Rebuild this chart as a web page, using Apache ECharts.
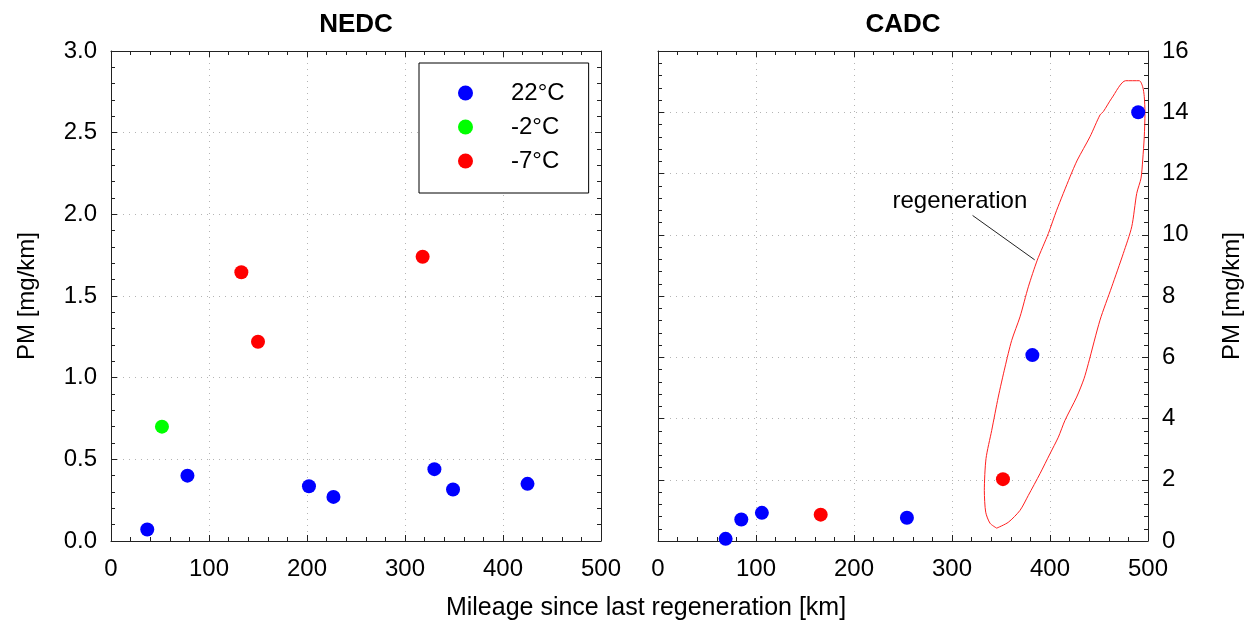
<!DOCTYPE html>
<html>
<head>
<meta charset="utf-8">
<script src="https://cdn.jsdelivr.net/npm/echarts@6/dist/echarts.min.js"></script>
<style>
html, body { margin: 0; padding: 0; background: #fff; }
#main { width: 1257px; height: 633px; }
</style>
</head>
<body>
<div id="main"></div>
<script>
// legend / temperatures
var tempNames = ['22°C', '-2°C', '-7°C'];
var tempColors = ['#0000ff', '#00ff00', '#ff0000'];

// NEDC (left panel), PM in mg/km
var nedcKm22 = [37, 78, 202, 227, 330, 349, 425];
var nedcPm22 = [0.07, 0.40, 0.335, 0.27, 0.44, 0.315, 0.35];
var nedcKmM2 = [52];
var nedcPmM2 = [0.70];
var nedcKmM7 = [133, 150, 318];
var nedcPmM7 = [1.645, 1.22, 1.74];

// CADC (right panel)
var cadcKm22 = [69, 85, 106, 254, 382, 490];
var cadcPm22 = [0.07, 0.70, 0.92, 0.76, 6.07, 14.0];
var cadcKmM7 = [166, 352];
var cadcPmM7 = [0.86, 2.02];

// hand drawn "regeneration" outline (km, mg/km)
var loopKm = [345.6, 338.8, 334.4, 333.0, 334.7, 340.5, 347.2, 354.1, 360.9, 369.4, 377.9, 387.0, 398.3, 406.8,
              420.4, 427.9, 440.8, 451.0, 454.4, 463.0, 477.2, 491.1, 494.6, 496.2, 496.9, 496.2, 494.6, 492.9,
              488.5, 483.4, 474.8, 463.0, 451.0, 439.1, 434.7, 427.2, 415.3, 408.5, 400.0, 389.8, 377.9, 369.4,
              357.4, 345.6];
var loopPm = [0.42, 0.58, 0.94, 1.65, 2.69, 3.61, 4.70, 5.68, 6.55, 7.32, 8.30, 9.17, 10.04, 10.80,
              11.89, 12.44, 13.20, 13.91, 14.02, 14.46, 15.03, 15.03, 14.83, 14.51, 13.98, 13.20, 12.44, 11.85,
              11.35, 10.26, 9.39, 8.30, 7.21, 5.79, 5.30, 4.70, 3.94, 3.39, 2.85, 2.20, 1.49, 1.00,
              0.61, 0.42];
var leaderKm = [321, 384.4];
var leaderPm = [10.63, 9.18];
var noteKm = [308];
var notePm = [11.1];
var noteText = 'regeneration';

var FONT = '"Liberation Sans", Arial, sans-serif';
var AXIS_COLOR = '#222';

function pairs(xs, ys) {
    return xs.map(function (x, i) { return [x, ys[i]]; });
}

function xAxisCfg(grid, mirror) {
    return {
        type: 'value', gridIndex: grid, min: 0, max: 500, interval: 100,
        position: mirror ? 'top' : 'bottom',
        axisLine: { show: true, onZero: false, lineStyle: { color: AXIS_COLOR, width: 1 } },
        axisTick: { show: true, inside: true, length: 6, lineStyle: { color: AXIS_COLOR } },
        minorTick: { show: true, splitNumber: 5, length: 4, lineStyle: { color: AXIS_COLOR } },
        axisLabel: { show: !mirror, margin: 16, color: '#000', fontSize: 24, fontFamily: FONT },
        splitLine: { show: !mirror, lineStyle: { color: '#b4b4b4', width: 1, type: [1, 5] } }
    };
}

function yAxisCfg(grid, side, max, step, labels, fmt) {
    var cfg = {
        type: 'value', gridIndex: grid, min: 0, max: max, interval: step,
        position: side,
        axisLine: { show: true, onZero: false, lineStyle: { color: AXIS_COLOR, width: 1 } },
        axisTick: { show: true, inside: true, length: 6, lineStyle: { color: AXIS_COLOR } },
        minorTick: { show: true, splitNumber: 5, length: 4, lineStyle: { color: AXIS_COLOR } },
        axisLabel: { show: labels, margin: 14, color: '#000', fontSize: 24, fontFamily: FONT, formatter: fmt },
        splitLine: { show: labels, lineStyle: { color: '#b4b4b4', width: 1, type: [1, 5] } }
    };
    if (labels) {
        cfg.name = 'PM [mg/km]';
        cfg.nameLocation = 'middle';
        cfg.nameRotate = 90;
        cfg.nameGap = 72;
        cfg.nameTextStyle = { fontSize: 24, color: '#000', fontFamily: FONT };
    }
    return cfg;
}

function dots(name, color, xi, yi, xs, ys) {
    return {
        name: name, type: 'scatter', xAxisIndex: xi, yAxisIndex: yi, symbolSize: 14,
        itemStyle: { color: color, opacity: 1 }, data: pairs(xs, ys), z: 5
    };
}

var myChart = echarts.init(document.getElementById('main'));

var option = {
    backgroundColor: '#fff',
    animation: false,
    title: [
        { text: 'NEDC', left: 356, top: 12, textAlign: 'center', padding: 0,
          textStyle: { fontSize: 26, fontWeight: 'bold', color: '#000', fontFamily: FONT } },
        { text: 'CADC', left: 903, top: 12, textAlign: 'center', padding: 0,
          textStyle: { fontSize: 26, fontWeight: 'bold', color: '#000', fontFamily: FONT } },
        { text: 'Mileage since last regeneration [km]', left: 646, top: 596, textAlign: 'center', padding: 0,
          textStyle: { fontSize: 25, fontWeight: 'normal', color: '#000', fontFamily: FONT } }
    ],
    legend: {
        orient: 'vertical', left: 419, top: 63,
        data: tempNames, icon: 'circle', itemWidth: 15, itemHeight: 15, itemGap: 10,
        padding: [18, 24, 20, 39],
        borderColor: '#000', borderWidth: 1, borderRadius: 0, backgroundColor: '#fff',
        selectedMode: false,
        itemStyle: { opacity: 1 },
        textStyle: { fontSize: 24, color: '#000', fontFamily: FONT, padding: [0, 0, 0, 33] }
    },
    grid: [
        { left: 111, top: 51, width: 490, height: 490, outerBoundsMode: 'none' },
        { left: 658, top: 51, width: 490, height: 490, outerBoundsMode: 'none' }
    ],
    xAxis: [
        xAxisCfg(0, false),
        xAxisCfg(0, true),
        xAxisCfg(1, false),
        xAxisCfg(1, true)
    ],
    yAxis: [
        yAxisCfg(0, 'left', 3, 0.5, true, function (v) { return v.toFixed(1); }),
        yAxisCfg(0, 'right', 3, 0.5, false),
        yAxisCfg(1, 'right', 16, 2, true, function (v) { return String(v); }),
        yAxisCfg(1, 'left', 16, 2, false)
    ],
    series: [
        dots(tempNames[0], tempColors[0], 0, 0, nedcKm22, nedcPm22),
        dots(tempNames[1], tempColors[1], 0, 0, nedcKmM2, nedcPmM2),
        dots(tempNames[2], tempColors[2], 0, 0, nedcKmM7, nedcPmM7),
        dots(tempNames[0], tempColors[0], 2, 2, cadcKm22, cadcPm22),
        dots(tempNames[2], tempColors[2], 2, 2, cadcKmM7, cadcPmM7),
        { name: 'loop', type: 'line', xAxisIndex: 2, yAxisIndex: 2, symbol: 'none', smooth: 0.25,
          silent: true, lineStyle: { color: '#ff2020', width: 1, opacity: 1 }, data: pairs(loopKm, loopPm), z: 3 },
        { name: 'leader', type: 'line', xAxisIndex: 2, yAxisIndex: 2, symbol: 'none',
          silent: true, lineStyle: { color: '#222', width: 1, opacity: 1 }, data: pairs(leaderKm, leaderPm), z: 3 },
        { name: 'note', type: 'scatter', xAxisIndex: 2, yAxisIndex: 2, symbolSize: 0, silent: true,
          itemStyle: { opacity: 1 },
          label: { show: true, position: 'inside', formatter: noteText, fontSize: 24, color: '#000',
                   fontFamily: FONT, opacity: 1 },
          data: pairs(noteKm, notePm), z: 4 }
    ]
};

myChart.setOption(option);
</script>
</body>
</html>
